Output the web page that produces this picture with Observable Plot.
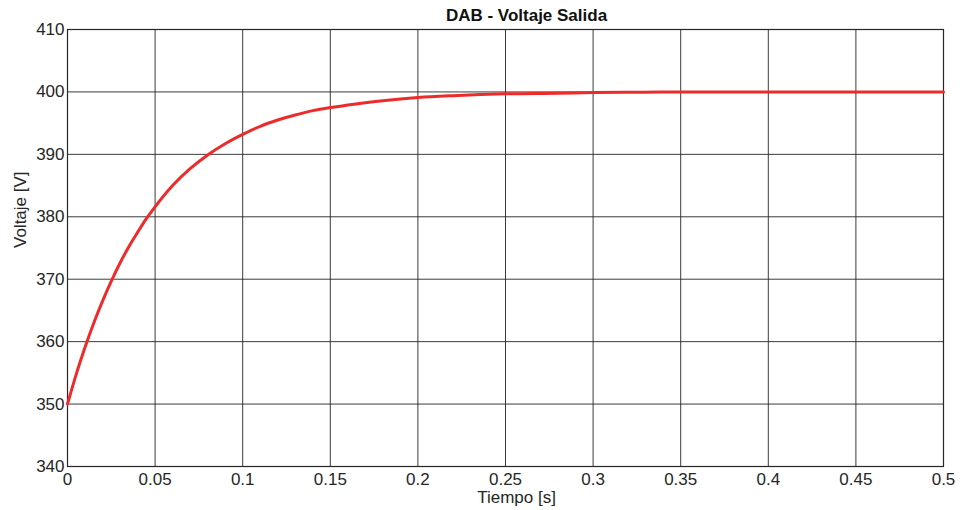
<!DOCTYPE html>
<html>
<head>
<meta charset="utf-8">
<script src="https://cdn.jsdelivr.net/npm/d3@7"></script>
<script src="https://cdn.jsdelivr.net/npm/@observablehq/plot@0.6"></script>
<style>
  html, body { margin: 0; padding: 0; background: #ffffff; }
  #chart { width: 960px; height: 510px; }
</style>
</head>
<body>
<div id="chart"></div>
<script>
// Output voltage of the DAB converter during start-up (simulated response)
const tiempo  = [0, 0.005, 0.01, 0.015, 0.02, 0.025, 0.03, 0.035, 0.04, 0.045, 0.05,
                 0.06, 0.07, 0.08, 0.09, 0.1, 0.11, 0.12, 0.13, 0.14, 0.15,
                 0.16, 0.18, 0.2, 0.22, 0.25, 0.28, 0.3, 0.33, 0.35, 0.4, 0.45, 0.5];
const voltaje = [350, 354.8, 359.1, 363.0, 366.5, 369.7, 372.6, 375.2, 377.5, 379.7, 381.6,
                 385.0, 387.7, 389.9, 391.7, 393.2, 394.5, 395.5, 396.3, 397.0, 397.5,
                 397.9, 398.6, 399.1, 399.4, 399.7, 399.8, 399.9, 399.95, 400, 400, 400, 400];

const xTicks = [0, 0.05, 0.1, 0.15, 0.2, 0.25, 0.3, 0.35, 0.4, 0.45, 0.5];
const yTicks = [340, 350, 360, 370, 380, 390, 400, 410];

const titulo = "DAB - Voltaje Salida";
const etiquetaX = "Tiempo [s]";
const etiquetaY = "Voltaje [V]";

const puntos = tiempo.map((t, i) => ({t, v: voltaje[i]}));

const textColor = "#262626";
const gridColor = "#262626";
const fmt = d => String(+d.toFixed(2));

const chart = Plot.plot({
  width: 960,
  height: 510,
  marginLeft: 67,
  marginRight: 17,
  marginTop: 29,
  marginBottom: 44,
  style: {
    fontFamily: "'Liberation Sans', Arial, sans-serif",
    fontSize: "17px",
    color: textColor,
    background: "#ffffff"
  },
  x: {domain: [0, 0.5], ticks: xTicks, tickFormat: fmt, label: null},
  y: {domain: [340, 410], ticks: yTicks, label: null},
  marks: [
    Plot.gridX(xTicks, {stroke: gridColor, strokeOpacity: 0.9, strokeWidth: 1}),
    Plot.gridY(yTicks, {stroke: gridColor, strokeOpacity: 0.9, strokeWidth: 1}),
    Plot.frame({stroke: gridColor, strokeWidth: 1.2}),
    Plot.axisX(xTicks, {tickSize: 0, tickPadding: 6, tickFormat: fmt, fill: textColor, fontSize: 17}),
    Plot.axisY(yTicks, {tickSize: 0, tickPadding: 3, fill: textColor, fontSize: 17}),
    Plot.line(puntos, {x: "t", y: "v", stroke: "#ee2b2b", strokeWidth: 3, curve: "monotone-x"}),
    Plot.text([titulo], {text: d => d, frameAnchor: "top", lineAnchor: "middle", dx: 21, dy: -14, fontWeight: "bold", fontSize: 17, fill: "#111111"}),
    Plot.text([etiquetaX], {text: d => d, frameAnchor: "bottom", lineAnchor: "middle", dx: 11, dy: 31.5, fontSize: 17, fill: textColor}),
    Plot.text([etiquetaY], {text: d => d, frameAnchor: "left", lineAnchor: "middle", dx: -47, rotate: -90, fontSize: 17, fill: textColor})
  ]
});

document.getElementById("chart").appendChild(chart);
</script>
</body>
</html>
